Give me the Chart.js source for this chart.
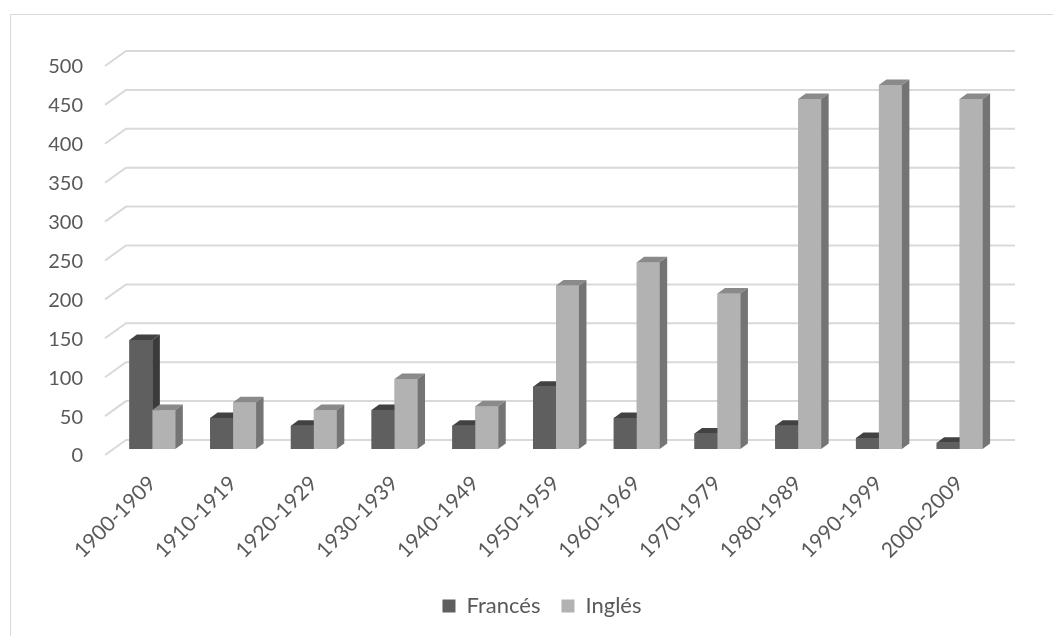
<!DOCTYPE html>
<html>
<head>
<meta charset="utf-8">
<script src="https://cdn.jsdelivr.net/npm/chart.js@4.4.1/dist/chart.umd.min.js"></script>
<style>
  html, body { margin: 0; padding: 0; background: #fff; overflow: hidden; width: 1053px; height: 636px; }
  #frame { position: absolute; left: 10px; top: 14px; width: 1200px; height: 800px; border: 1px solid #d9d9d9; }
  #myChart { position: absolute; left: 0; top: 0; }
</style>
</head>
<body>
<div id="frame"></div>
<canvas id="myChart" width="1084" height="636"></canvas>
<script>
const categories = ['1900-1909', '1910-1919', '1920-1929', '1930-1939', '1940-1949', '1950-1959',
                    '1960-1969', '1970-1979', '1980-1989', '1990-1999', '2000-2009'];
const frances = [140, 40, 30, 50, 30, 80, 40, 20, 30, 14, 8];
const ingles = [50, 60, 50, 90, 55, 210, 240, 200, 450, 468, 450];
const yTicks = [0, 50, 100, 150, 200, 250, 300, 350, 400, 450, 500];

// colores de cada cara (frente, arriba, lado)
const faces = [
    { front: '#5f5f5f', top: '#424242', side: '#3b3b3b' },
    { front: '#b2b2b2', top: '#8a8a8a', side: '#747474' }
];
const dx = 7.5, dy = 5.5;
const textColor = '#595959';
const fontFamily = 'Lato, "Open Sans", sans-serif';

// paredes y lineas de la cuadricula en 3D
const grid3d = {
    id: 'grid3d',
    beforeDatasetsDraw(chart) {
        const { ctx, chartArea: a, scales: { y } } = chart;
        ctx.save();
        ctx.strokeStyle = '#d9d9d9';
        ctx.lineWidth = 2;
        yTicks.forEach(v => {
            const py = y.getPixelForValue(v);
            ctx.beginPath();
            ctx.moveTo(a.left - 7, py + 6);
            ctx.lineTo(a.left + 14, py - 9);
            ctx.lineTo(a.right + 15, py - 9);
            ctx.stroke();
        });
        ctx.restore();
    },
    afterDatasetsDraw(chart) {
        const ctx = chart.ctx;
        ctx.save();
        for (let i = 0; i < categories.length; i++) {
            chart.data.datasets.forEach((ds, d) => {
                const bar = chart.getDatasetMeta(d).data[i];
                const left = bar.x - bar.width / 2;
                const right = bar.x + bar.width / 2;
                const top = bar.y, base = bar.base;
                const c = faces[d];
                ctx.fillStyle = c.front;
                ctx.fillRect(left, top, right - left, base - top);
                ctx.fillStyle = c.top;
                ctx.beginPath();
                ctx.moveTo(left, top);
                ctx.lineTo(left + dx, top - dy);
                ctx.lineTo(right + dx, top - dy);
                ctx.lineTo(right, top);
                ctx.closePath();
                ctx.fill();
                ctx.fillStyle = c.side;
                ctx.beginPath();
                ctx.moveTo(right, top);
                ctx.lineTo(right + dx, top - dy);
                ctx.lineTo(right + dx, base - dy);
                ctx.lineTo(right, base);
                ctx.closePath();
                ctx.fill();
            });
        }
        ctx.restore();
    }
};

const ctx = document.getElementById('myChart').getContext('2d');
const myChart = new Chart(ctx, {
    type: 'bar',
    data: {
        labels: categories,
        datasets: [
            {
                label: 'Francés',
                data: frances,
                backgroundColor: faces[0].front,
                borderWidth: 0
            },
            {
                label: 'Inglés',
                data: ingles,
                backgroundColor: faces[1].front,
                borderWidth: 0
            }
        ]
    },
    options: {
        responsive: false,
        animation: false,
        devicePixelRatio: 1,
        categoryPercentage: 0.569,
        barPercentage: 1,
        layout: { padding: { top: 60, right: 0, left: 0, bottom: 9 } },
        scales: {
            x: {
                grid: { display: false, drawTicks: false },
                border: { display: false },
                ticks: {
                    minRotation: 45,
                    maxRotation: 45,
                    autoSkip: false,
                    padding: 22,
                    color: textColor,
                    font: { size: 21, family: fontFamily }
                },
                afterFit: s => { s.height = 125; }
            },
            y: {
                min: 0,
                max: 500,
                grid: { display: false, drawTicks: false },
                border: { display: false },
                ticks: {
                    stepSize: 50,
                    padding: 29,
                    labelOffset: 7,
                    color: textColor,
                    font: { size: 20, family: fontFamily }
                },
                afterFit: s => { s.width = 112; }
            },
            // eje vacio a la derecha, solo reserva espacio
            y2: {
                position: 'right',
                min: 0,
                max: 500,
                grid: { display: false, drawTicks: false },
                border: { display: false },
                ticks: { display: false },
                afterFit: s => { s.width = 84; }
            }
        },
        plugins: {
            legend: {
                display: true,
                position: 'bottom',
                labels: {
                    color: textColor,
                    font: { size: 22, family: fontFamily },
                    boxWidth: 13,
                    boxHeight: 13,
                    padding: 21
                }
            },
            tooltip: { enabled: false }
        }
    },
    plugins: [grid3d]
});
</script>
</body>
</html>
